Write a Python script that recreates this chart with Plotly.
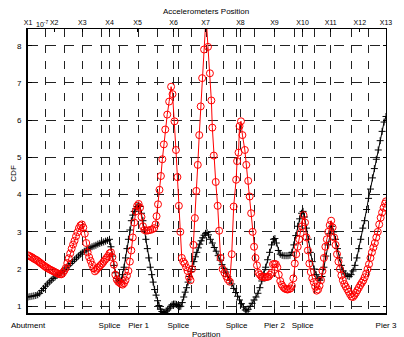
import plotly.graph_objects as go

# ---------------- data ----------------
black_x = [28, 30, 32, 34, 36, 38, 40, 42, 44, 46, 48, 50, 52, 54, 56, 58, 60, 62, 64, 66, 68, 70, 72, 74, 76, 78, 80,
           82, 84, 86, 88, 90, 92, 94, 96, 98, 100, 102, 104, 106, 108, 110, 112, 113.5, 115, 116.5, 118, 119.5, 121,
           122.5, 124, 125.5, 127, 128.5, 130, 131.5, 133, 134.5, 136, 137.5, 139, 140.5, 142, 143.5, 145, 146.5, 148,
           149.5, 151, 152.5, 154, 155.5, 157, 158.5, 160, 161.5, 163, 164.5, 166, 167.5, 169, 170.5, 172, 173.5, 175,
           176.5, 178, 179.5, 181, 182.5, 184, 185.5, 187, 188.5, 190, 191.5, 193, 194.5, 196, 197.5, 199, 200.5, 202,
           203.5, 205, 206.5, 208, 209.5, 211, 212.5, 214, 216, 218, 220, 222, 224, 226, 228, 230, 232, 234, 236, 238,
           240, 242, 244, 246, 248, 250, 252, 253.5, 255, 257, 259, 261, 263, 265, 267, 269, 271, 273, 275, 277, 279,
           281, 282.5, 284, 286, 288, 290, 292, 294, 296, 298, 300, 302, 304, 306, 308, 310, 311.5, 313, 315, 317, 319,
           321, 323, 325, 327, 329, 331, 333, 335, 337, 339, 341, 343, 345, 347, 349, 351, 353, 355, 357, 359, 361, 363,
           365, 367, 369, 371, 373, 375, 377, 379, 381, 383, 385, 387, 389, 391, 393, 395, 397]
black_y = [1.25, 1.26, 1.27, 1.28, 1.29, 1.31, 1.35, 1.42, 1.48, 1.54, 1.6, 1.65, 1.7, 1.75, 1.79, 1.83, 1.87, 1.9, 1.95,
           2.0, 2.05, 2.1, 2.15, 2.2, 2.25, 2.3, 2.35, 2.4, 2.44, 2.48, 2.51, 2.54, 2.57, 2.6, 2.62, 2.64, 2.67, 2.69,
           2.71, 2.73, 2.75, 2.77, 2.8, 2.6, 2.35, 2.1, 1.9, 1.75, 1.68, 1.65, 1.7, 1.85, 2.05, 2.3, 2.55, 2.8, 3.05,
           3.3, 3.45, 3.55, 3.62, 3.68, 3.72, 3.68, 3.5, 3.3, 3.05, 2.8, 2.55, 2.3, 2.05, 1.85, 1.65, 1.45, 1.3, 1.15,
           1.02, 0.92, 0.86, 0.83, 0.84, 0.87, 0.9, 0.95, 1.0, 1.04, 1.06, 1.06, 1.05, 1.02, 0.99, 1.0, 1.1, 1.25, 1.38,
           1.5, 1.65, 1.8, 1.93, 2.07, 2.2, 2.33, 2.45, 2.57, 2.67, 2.76, 2.84, 2.91, 2.96, 2.98, 2.92, 2.8, 2.7, 2.58,
           2.48, 2.36, 2.24, 2.12, 2.02, 1.92, 1.8, 1.7, 1.6, 1.48, 1.37, 1.27, 1.17, 1.07, 0.98, 0.9, 0.87, 0.92, 1.0,
           1.08, 1.17, 1.25, 1.35, 1.5, 1.68, 1.87, 2.05, 2.25, 2.45, 2.65, 2.8, 2.82, 2.7, 2.5, 2.4, 2.37, 2.36, 2.36,
           2.36, 2.37, 2.45, 2.65, 2.9, 3.15, 3.35, 3.5, 3.55, 3.4, 3.1, 2.8, 2.45, 2.2, 2.0, 1.85, 1.75, 1.7, 1.8, 2.05,
           2.35, 2.65, 2.95, 3.15, 3.0, 2.8, 2.55, 2.3, 2.1, 1.95, 1.87, 1.82, 1.8, 1.85, 1.95, 2.1, 2.3, 2.55, 2.8, 3.1,
           3.3, 3.6, 3.9, 4.15, 4.45, 4.7, 4.95, 5.2, 5.45, 5.7, 5.95, 6.1]

red_x = [28, 29.5, 31, 32.5, 34, 35.5, 37, 38.5, 40, 41.5, 43, 44.5, 46, 47.5, 49, 50.5, 52, 53.5, 55, 56.5, 58, 59.5,
         61, 62.5, 64, 65.5, 67, 68.5, 70, 71.5, 73, 74.5, 76, 77.5, 79, 80.5, 82, 83.5, 85, 86.5, 88, 89.5, 91, 92.5,
         94, 95.5, 97, 98.5, 100, 101.5, 103, 104.5, 106, 107.5, 109, 110.5, 112, 113.5, 115, 116.5, 118, 119.5, 121,
         122.5, 124, 125.5, 127, 128.5, 130, 131.5, 133, 134.5, 136, 137.5, 139, 140.5, 142, 143.5, 145, 146.5, 148,
         150, 152, 154, 156, 158, 159.5, 160.5, 162, 163.5, 165, 166.5, 168, 169.5, 171.5, 173.5, 175.5, 177, 179,
         180.5, 182, 183.5, 185, 186.5, 188, 189.5, 191, 192.5, 194, 195.5, 197, 198.5, 200, 201.5, 203, 204.5, 206,
         207.5, 209.5, 211.5, 213.5, 215.5, 217, 218, 219.5, 221.5, 223.5, 225, 226.5, 228.5, 230.5, 232.5, 234, 236,
         238, 240, 242.5, 243.5, 245, 246, 247.5, 249, 251.5, 253, 255, 256.5, 258, 259.5, 261, 262.5, 264, 265.5,
         267, 268.5, 270, 271.5, 273, 274.5, 276, 277.5, 279, 280.5, 282, 283.5, 285, 286.5, 288, 289.5, 291, 292.5,
         294, 295.5, 297, 298.5, 300, 301.5, 303, 304.5, 306, 307.5, 309, 310.5, 312, 313.5, 315, 316.5, 318, 319.5,
         321, 322.5, 324, 325.5, 327, 328.5, 330, 331.5, 333, 334.5, 336, 337.5, 339, 340.5, 342, 343.5, 345, 346.5,
         348, 349.5, 351, 352.5, 354, 355.5, 357, 358.5, 360, 361.5, 363, 364.5, 366, 367.5, 369, 370.5, 372, 373.5,
         375, 376.5, 378, 379.5, 381, 382.5, 384, 385.5, 387, 388.5, 390, 391.5, 393, 394.5, 396, 397]
red_y = [2.37, 2.35, 2.33, 2.31, 2.28, 2.26, 2.24, 2.21, 2.18, 2.15, 2.12, 2.09, 2.06, 2.04, 2.01, 1.99, 1.97, 1.95,
         1.93, 1.91, 1.89, 1.87, 1.86, 1.86, 1.9, 1.96, 2.03, 2.16, 2.29, 2.42, 2.55, 2.66, 2.76, 2.88, 2.99, 3.1, 3.17,
         3.2, 3.12, 2.95, 2.7, 2.45, 2.32, 2.22, 2.12, 2.02, 1.94, 1.98, 2.03, 2.07, 2.11, 2.15, 2.2, 2.25, 2.3, 2.35,
         2.42, 2.45, 2.32, 2.12, 1.85, 1.72, 1.66, 1.63, 1.6, 1.58, 1.62, 1.7, 1.82, 1.95, 2.2, 2.5, 2.85, 3.25, 3.55,
         3.7, 3.75, 3.65, 3.4, 3.15, 3.05, 3.03, 3.04, 3.05, 3.07, 3.1, 3.2, 3.42, 3.74, 4.13, 4.5, 4.95, 5.35, 5.75,
         6.15, 6.5, 6.9, 6.7, 5.97, 5.2, 4.47, 3.7, 3.0, 2.3, 2.2, 2.15, 2.05, 1.95, 1.78, 1.7, 2.0, 2.65, 3.37, 4.1,
         4.8, 5.6, 6.37, 7.13, 7.9, 8.8, 7.97, 7.26, 6.53, 5.8, 5.05, 4.34, 3.7, 3.03, 2.3, 2.0, 1.9, 1.8, 1.72, 1.66,
         2.4, 3.68, 4.4, 4.9, 5.13, 5.84, 5.97, 5.6, 5.2, 4.8, 4.37, 3.95, 3.5, 3.0, 2.6, 2.3, 2.1, 1.9, 1.85, 1.8,
         1.79, 1.78, 1.78, 1.79, 1.8, 1.85, 1.9, 2.13, 2.14, 2.13, 2.05, 1.85, 1.68, 1.58, 1.52, 1.48, 1.46, 1.45,
         1.46, 1.48, 1.55, 1.75, 2.15, 2.4, 2.6, 2.8, 2.97, 3.15, 3.45, 3.25, 2.85, 2.5, 2.15, 1.92, 1.75, 1.65, 1.53,
         1.42, 1.45, 1.55, 1.7, 1.95, 2.3, 2.6, 2.8, 3.0, 3.18, 3.3, 3.12, 2.85, 2.65, 2.4, 2.2, 2.0, 1.83, 1.7, 1.6,
         1.53, 1.46, 1.39, 1.32, 1.26, 1.25, 1.3, 1.36, 1.43, 1.5, 1.57, 1.63, 1.69, 1.78, 1.88, 2.0, 2.13, 2.3, 2.45,
         2.58, 2.7, 2.85, 3.0, 3.2, 3.38, 3.52, 3.65, 3.76, 3.82]

bottom_ticks = [28, 112, 142, 183, 243, 282, 311, 397]
bottom_labels = ["Abutment", "Splice", "Pier 1", "Splice", "Splice", "Pier 2", "Splice", "Pier 3"]
top_ticks = [28, 55, 84, 112, 141, 178, 211, 247, 282, 311, 340, 370, 397]
top_labels = ["X1", "X2", "X3", "X4", "X5", "X6", "X7", "X8", "X9", "X10", "X11", "X12", "X13"]
grid_x = [46, 66, 84, 104, 112, 122, 142, 161, 178, 183, 197, 212, 230, 243, 247, 261, 282, 303, 311, 323, 340,
          361, 379]
y_ticks = [1, 2, 3, 4, 5, 6, 7, 8]

X_RANGE = [28, 397]
Y_RANGE = [0.82, 8.45]
FONT = "Liberation Sans, Arial, sans-serif"

fig = go.Figure()

# helper traces so overlay axes render
fig.add_trace(go.Scatter(x=[None], y=[None], xaxis="x3", yaxis="y", showlegend=False, hoverinfo="skip"))
fig.add_trace(go.Scatter(x=[None], y=[None], xaxis="x2", yaxis="y2", showlegend=False, hoverinfo="skip"))

fig.add_trace(go.Scatter(
    x=black_x, y=black_y, mode="lines+markers",
    line=dict(color="black", width=1),
    marker=dict(symbol="cross-thin-open", size=5, line=dict(color="black", width=1)),
    showlegend=False))
fig.add_trace(go.Scatter(
    x=red_x, y=red_y, mode="lines+markers",
    line=dict(color="#ff0000", width=1),
    marker=dict(symbol="circle-open", size=7, color="#ff0000", line=dict(color="#ff0000", width=1)),
    showlegend=False))

fig.update_layout(
    width=404, height=337,
    margin=dict(l=28, r=7, t=29, b=18),
    paper_bgcolor="white", plot_bgcolor="white",
    font=dict(family=FONT, size=8, color="black"),
    xaxis=dict(range=X_RANGE, tickvals=bottom_ticks, ticktext=bottom_labels, ticks="inside", ticklen=4,
               tickcolor="black", showline=True, linecolor="black", linewidth=2, showgrid=False,
               zeroline=False, tickfont=dict(size=8), ticklabelstandoff=3),
    xaxis2=dict(range=X_RANGE, overlaying="x", side="top", anchor="y2", tickvals=top_ticks,
                ticktext=top_labels, ticks="inside", ticklen=3, tickcolor="black", showline=True,
                linecolor="black", linewidth=1, showgrid=False, zeroline=False, tickfont=dict(size=7),
                ticklabelstandoff=0),
    xaxis3=dict(range=X_RANGE, overlaying="x", anchor="y", tickvals=grid_x, showticklabels=False, ticks="",
                showline=False, showgrid=True, gridcolor="#222222", gridwidth=1, griddash="8px,8px",
                zeroline=False),
    yaxis=dict(range=Y_RANGE, tickvals=y_ticks, ticks="inside", ticklen=4, tickcolor="black",
               showline=True, linecolor="black", linewidth=2, showgrid=True, gridcolor="#222222",
               gridwidth=1, griddash="10px,8px", zeroline=False, tickfont=dict(size=8),
               ticklabelstandoff=3),
    yaxis2=dict(range=Y_RANGE, overlaying="y", side="right", anchor="x2", tickvals=y_ticks,
                showticklabels=False, ticks="inside", ticklen=3, tickcolor="black", showline=True,
                linecolor="black", linewidth=1, showgrid=False, zeroline=False),
    annotations=[
        dict(text="Accelerometers Position", xref="paper", yref="paper", x=0.498, y=1.062,
             xanchor="center", yanchor="middle", showarrow=False, font=dict(size=8)),
        dict(text="10<sup>-7</sup>", xref="paper", yref="paper", x=0.016, y=1.017,
             xanchor="left", yanchor="middle", showarrow=False, font=dict(size=7)),
        dict(text="CDF", xref="paper", yref="paper", x=-0.04, y=0.493, textangle=-90,
             xanchor="center", yanchor="middle", showarrow=False, font=dict(size=8)),
        dict(text="Position", xref="paper", yref="paper", x=0.498, y=-0.052,
             xanchor="center", yanchor="top", showarrow=False, font=dict(size=8)),
    ],
)

fig.write_html("out.html")
